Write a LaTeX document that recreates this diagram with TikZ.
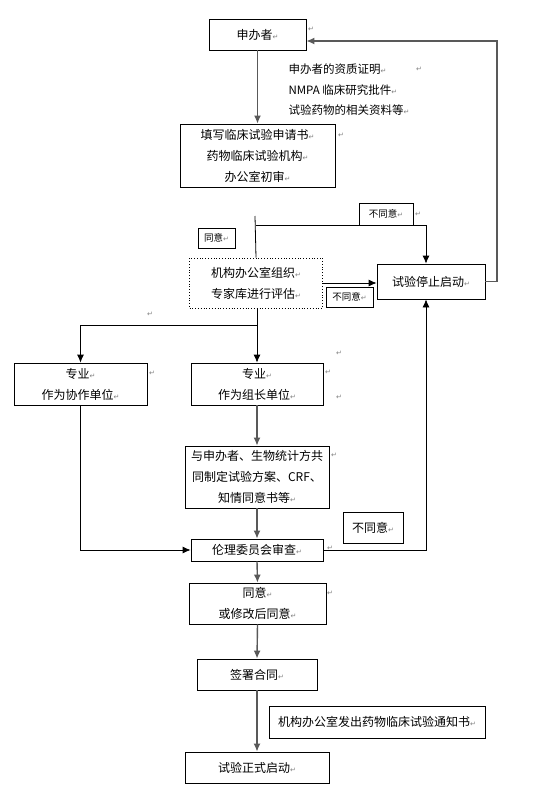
\documentclass[tikz,border=0pt]{standalone}
\usepackage{fontspec}
\setmainfont{Noto Sans CJK SC}
\newfontfamily\dejavu{DejaVu Sans}
\usetikzlibrary{arrows.meta}
\newcommand\retmark{{\dejavu\fontsize{7}{7}\selectfont\color{gray}↵}}

\tikzset{
  box/.style={draw, line width=0.8pt, inner sep=0pt, align=center,
              font=\fontsize{12}{21}\selectfont},
  tag/.style={box, font=\fontsize{9.5}{11}\selectfont},
  flow/.style={draw=black!65, line width=1.4pt, ->},
  link/.style={draw, line width=0.8pt},
  retsign/.style={inner sep=0pt, font=\dejavu\fontsize{7}{7}\selectfont, text=gray},
  >={Latex[length=8pt,width=7pt]}
}

\begin{document}
\begin{tikzpicture}[x=1pt,y=-1pt]

    \useasboundingbox (0,0) rectangle (552,792);

    % boxes
    \node[box, minimum width=97, minimum height=31] (sponsor) at (257.5,34.5) {申办者\retmark};
    \node[box, minimum width=155, minimum height=63] (apply) at (257.5,155.5)
        {填写临床试验申请书\retmark\\药物临床试验机构\retmark\\办公室初审\retmark};
    \node[tag, minimum width=37, minimum height=20] (agree1) at (216.5,238) {同意\retmark};
    \node[tag, minimum width=54, minimum height=22] (nogo1) at (386,214) {不同意\retmark};
    \node[box, dotted, minimum width=133, minimum height=50] (review) at (256,283)
        {机构办公室组织\retmark\\专家库进行评估\retmark};
    \node[tag, minimum width=47, minimum height=20] (nogo2) at (349.5,297) {不同意\retmark};
    \node[box, minimum width=108, minimum height=35] (stop) at (431,281.5) {试验停止启动\retmark};
    \node[box, minimum width=133, minimum height=42] (coop) at (80.5,384)
        {专业\retmark\\作为协作单位\retmark};
    \node[box, minimum width=132, minimum height=42] (lead) at (257,384)
        {专业\retmark\\作为组长单位\retmark};
    \node[box, minimum width=144, minimum height=62] (plan) at (257,477)
        {与申办者、生物统计方共\\同制定试验方案、CRF、\\知情同意书等\retmark};
    \node[box, minimum width=132, minimum height=22] (ethics) at (257,550) {伦理委员会审查\retmark};
    \node[box, minimum width=60, minimum height=31] (nogo3) at (373,527.5) {不同意\retmark};
    \node[box, minimum width=137, minimum height=41] (pass) at (257.5,603.5)
        {同意\retmark\\或修改后同意\retmark};
    \node[box, minimum width=120, minimum height=31] (sign) at (257,674.5) {签署合同\retmark};
    \node[box, minimum width=216, minimum height=32] (notice) at (377,722)
        {机构办公室发出药物临床试验通知书\retmark};
    \node[box, minimum width=144, minimum height=31] (start) at (257,767.5) {试验正式启动\retmark};

    % materials
    \node[anchor=west, align=left, font=\fontsize{11.5}{20.5}\selectfont] (docs) at (285,90)
        {申办者的资质证明\retmark\\NMPA 临床研究批件\retmark\\试验药物的相关资料等\retmark};

    % stray marks
    \node[retsign] (m1) at (311,29) {↵};
    \node[retsign] (m2) at (419,69) {↵};
    \node[retsign] (m3) at (341,135) {↵};
    \node[retsign] (m4) at (418,214) {↵};
    \node[retsign] (m5) at (150,314) {↵};
    \node[retsign] (m6) at (339,353) {↵};
    \node[retsign] (m7) at (152,373) {↵};
    \node[retsign] (m8) at (328,372) {↵};
    \node[retsign] (m9) at (339,397) {↵};
    \node[retsign] (m10) at (334,455) {↵};
    \node[retsign] (m11) at (330,548) {↵};
    \node[retsign] (m12) at (330,593) {↵};

    \coordinate (back) at (497,41);
    \coordinate (split) at (426,225);
    \coordinate (stub) at (255,216);
    \coordinate (fork) at (257,325);

    \draw[flow] (sponsor.south) -- (apply.north);
    \draw[flow] (stop.east) -| (back) -- (sponsor.east |- back);

    \draw[link] (review.north) -- (stub);
    \draw[link, ->] (review.north |- split) -- (split) -- (split |- stop.north);
    \draw[link, ->] (review.east) -- (review.east -| stop.west);

    \draw[link] (lead.north |- review.south) -- (fork);
    \draw[link, ->] (fork) -- (lead.north);
    \draw[link, ->] (fork) -| (coop.north);

    \draw[flow] (lead.south) -- (plan.north);
    \draw[flow] (plan.south) -- (ethics.north);
    \draw[link, ->] (coop.south) |- (ethics.west);
    \draw[link, ->] (ethics.east) -| (split |- stop.south);

    \draw[flow] (ethics.south) -- (pass.north);
    \draw[flow] (pass.south) -- (sign.north);
    \draw[flow] (sign.south) -- (start.north);

\end{tikzpicture}
\end{document}
